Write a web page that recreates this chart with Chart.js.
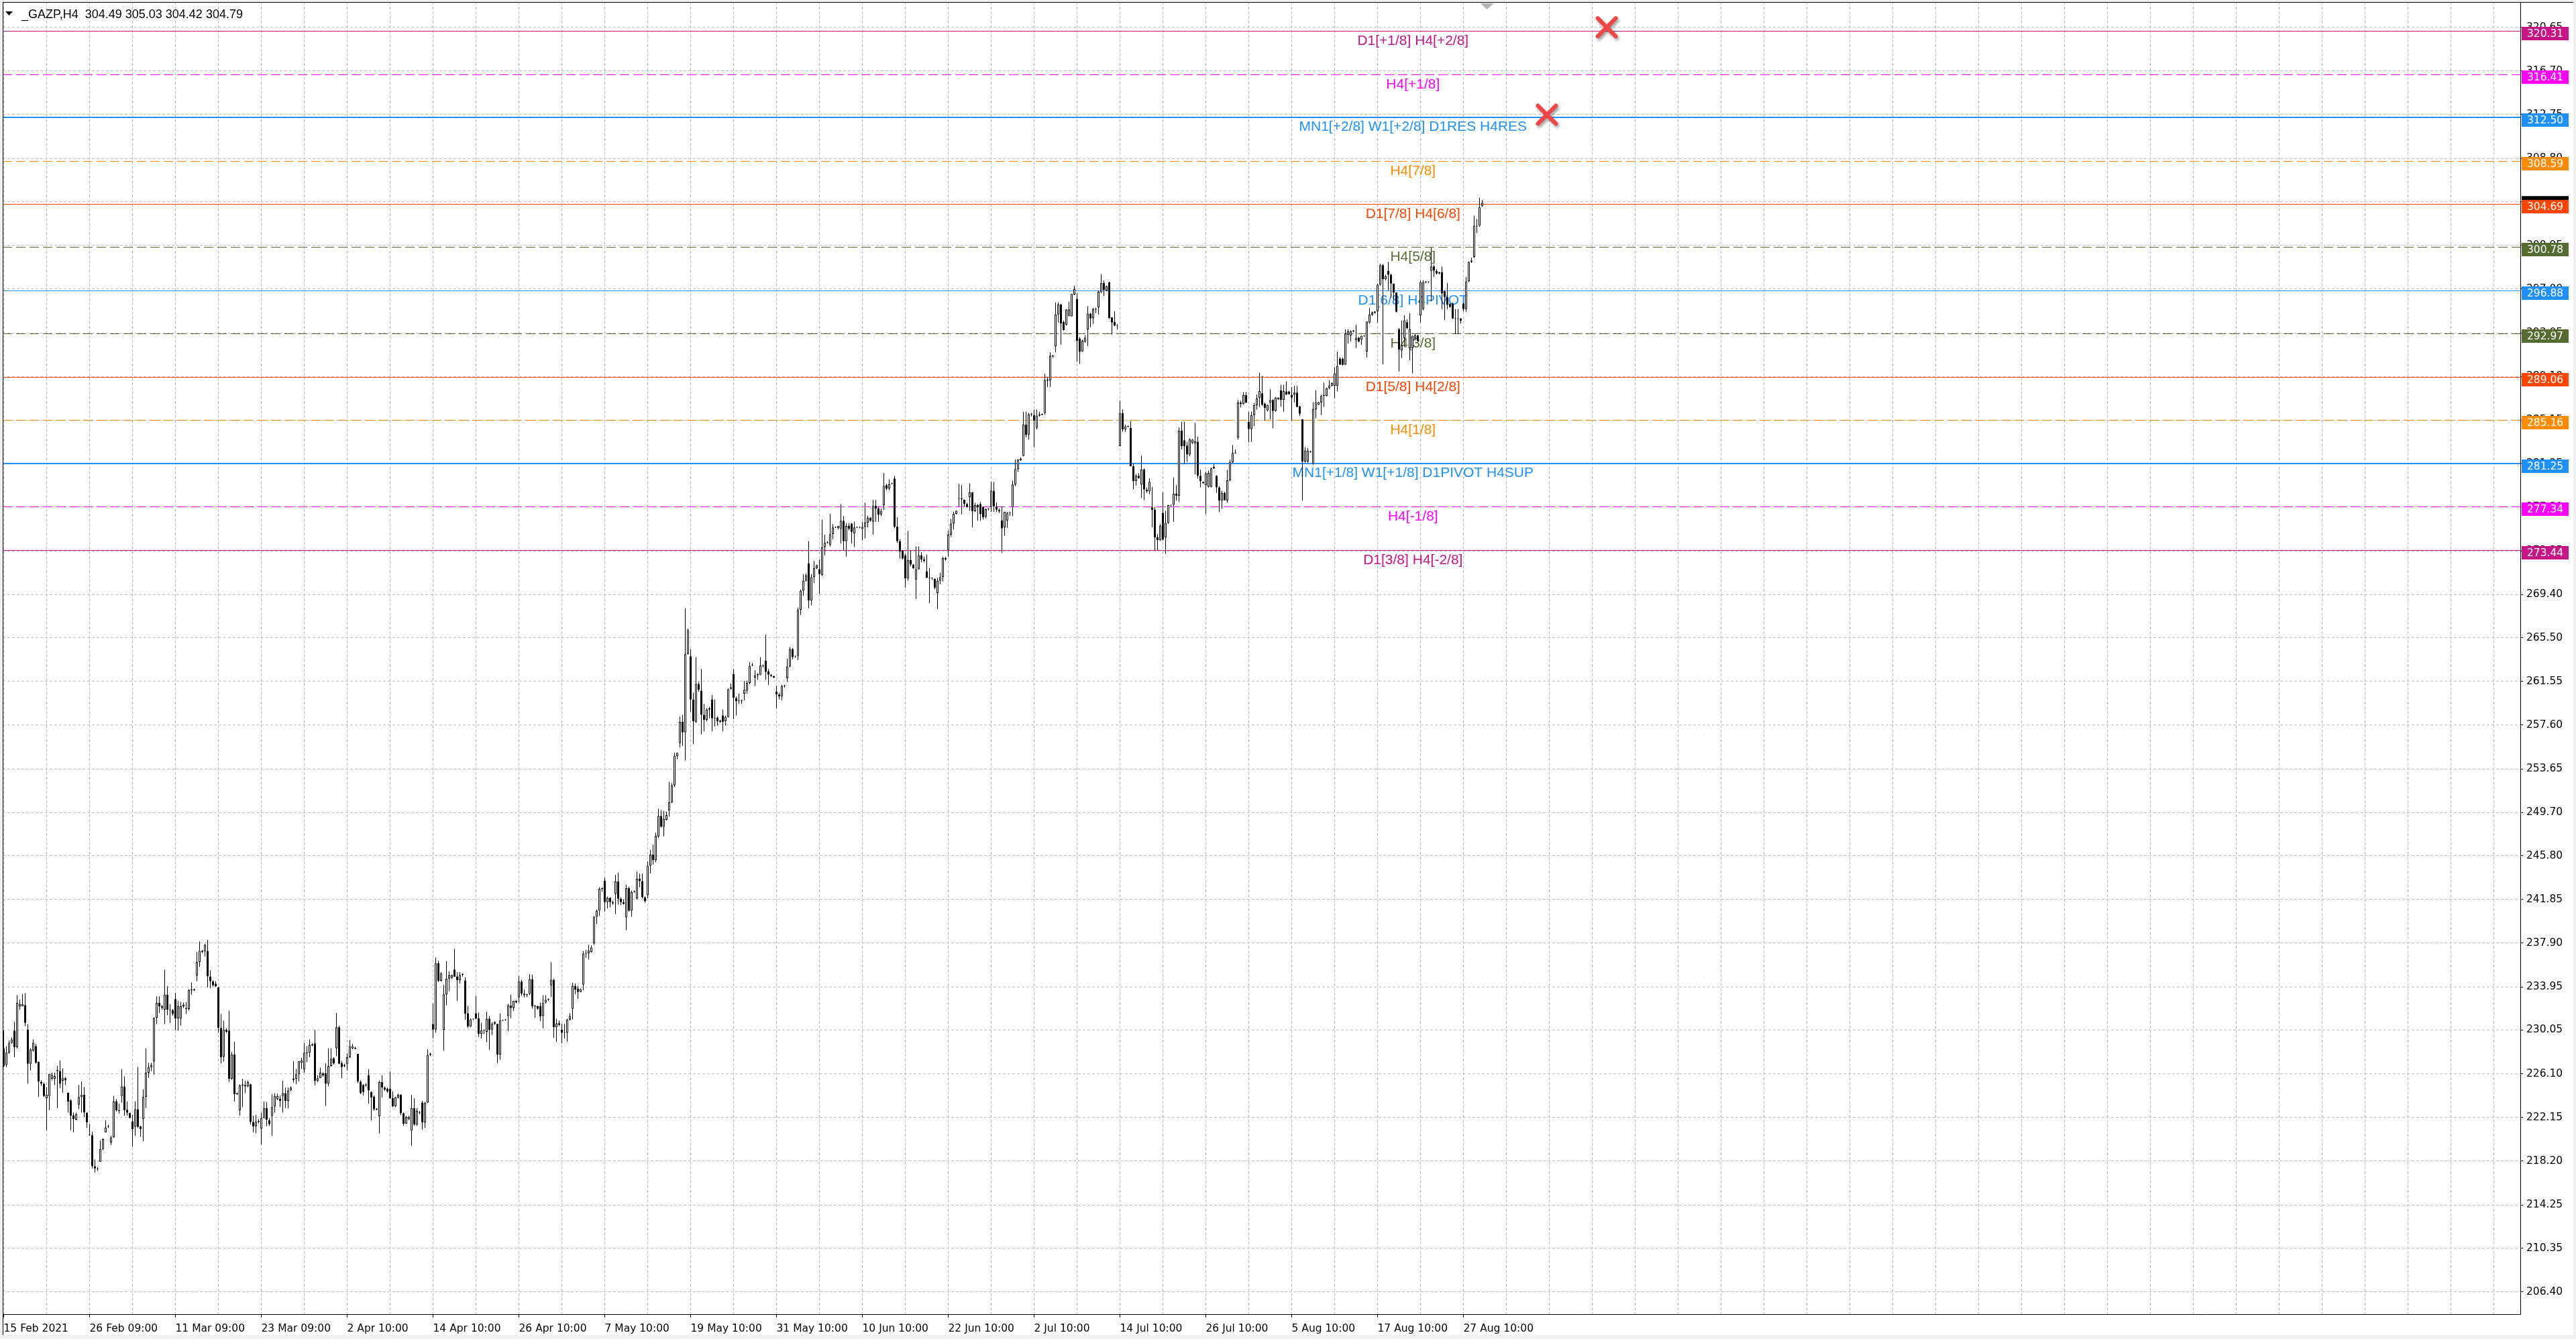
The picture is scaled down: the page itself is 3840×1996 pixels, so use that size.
<!DOCTYPE html>
<html>
<head>
<meta charset="utf-8">
<title>_GAZP,H4</title>
<script src="https://cdn.jsdelivr.net/npm/chart.js@4.4.1/dist/chart.umd.min.js"></script>
<style>
  html, body { margin: 0; padding: 0; background: #f0f0f0; overflow: hidden; }
  #box { position: relative; width: 3840px; height: 1996px; }
</style>
</head>
<body>
<div id="box"><canvas id="myChart"></canvas></div>
<script>
const symbolTitle = "_GAZP,H4  304.49 305.03 304.42 304.79";

// one label every 32 bars (H4 bars, 4 per session day)
const xTickLabels = ["15 Feb 2021", "26 Feb 09:00", "11 Mar 09:00", "23 Mar 09:00", "2 Apr 10:00", "14 Apr 10:00",
  "26 Apr 10:00", "7 May 10:00", "19 May 10:00", "31 May 10:00", "10 Jun 10:00", "22 Jun 10:00", "2 Jul 10:00",
  "14 Jul 10:00", "26 Jul 10:00", "5 Aug 10:00", "17 Aug 10:00", "27 Aug 10:00"];

const yTickValues = [320.65, 316.70, 312.75, 308.80, 304.90, 300.95, 297.00, 293.05, 289.10, 285.15, 281.25, 277.30,
  273.35, 269.40, 265.50, 261.55, 257.60, 253.65, 249.70, 245.80, 241.85, 237.90, 233.95, 230.05, 226.10, 222.15,
  218.20, 214.25, 210.35, 206.40];

const openP = [
228.4,226.9,228.0,228.9,230.0,228.5,232.2,232.2,232.3,230.1,
227.0,228.2,228.6,227.2,225.35,225.2,223.9,224.1,225.65,225.65,
226.45,226.35,225.45,225.7,224.4,223.7,222.35,221.95,223.3,224.0,
224.2,222.6,220.6,220.55,217.75,217.5,218.15,219.3,220.8,221.3,
219.9,220.35,223.6,222.8,224.1,224.95,222.85,222.55,221.8,221.3,
222.9,221.35,222.0,224.0,226.2,226.7,227.2,231.15,232.5,232.2,
231.9,233.25,231.9,231.85,232.85,231.1,231.1,232.2,232.0,231.95,
233.65,233.65,234.95,236.2,237.2,237.15,237.2,234.9,234.45,234.25,
233.9,230.25,227.65,230.1,230.0,225.65,227.85,224.35,222.8,225.1,
225.1,224.95,225.15,221.75,221.35,221.85,221.15,222.1,223.0,221.9,
222.3,223.15,223.8,223.85,224.1,224.35,223.65,224.6,225.55,225.65,
226.05,227.1,226.5,228.0,228.0,228.75,228.85,225.45,225.7,226.15,
226.15,225.2,226.8,227.5,228.4,230.3,227.05,226.9,226.95,227.6,
228.4,228.45,227.9,225.4,225.1,225.1,225.95,224.45,224.05,222.95,
222.25,225.35,224.85,224.75,224.75,223.9,223.15,223.95,224.2,222.55,
221.6,222.0,220.95,223.0,221.5,222.6,223.5,221.7,223.5,227.8,
230.6,230.1,236.1,234.5,230.07,233.28,234.7,234.76,235.51,234.9,
234.56,235.05,234.52,231.56,230.37,231.06,231.56,231.12,229.7,230.0,
229.9,231.08,230.1,230.61,230.61,227.82,230.9,230.95,231.32,232.27,
232.03,232.68,233.0,234.42,233.34,233.28,233.3,234.66,232.2,232.23,
232.23,231.32,232.53,232.8,234.09,234.6,230.31,230.67,230.1,229.8,
229.8,230.97,231.97,234.05,233.81,233.49,234.16,236.99,236.99,237.09,
237.9,240.29,240.84,242.8,243.53,241.61,242.01,241.61,242.35,243.47,
241.91,241.61,240.23,242.86,240.84,242.55,241.95,243.71,243.51,242.05,
242.25,244.9,245.9,245.4,247.55,249.39,248.41,249.05,249.86,250.63,
252.15,254.79,255.97,257.89,256.95,264.0,263.82,259.92,257.89,261.32,
260.71,258.53,258.08,259.13,259.92,258.26,258.26,258.0,258.47,257.95,
258.34,260.84,262.21,260.05,259.8,259.76,260.45,260.71,261.42,263.0,
261.9,262.11,262.16,262.95,263.42,262.48,262.16,262.03,260.63,260.37,
260.18,261.1,261.84,262.9,264.48,263.8,263.87,268.0,269.74,270.64,
272.22,268.87,270.98,271.77,271.69,271.16,273.69,274.1,273.88,274.85,
275.45,275.4,275.32,276.06,274.22,275.59,275.8,274.93,275.45,275.48,
275.32,275.51,275.9,276.32,275.98,277.43,277.17,276.64,277.48,279.27,
278.96,279.4,279.88,275.53,274.22,273.35,272.95,270.85,272.51,272.11,
270.72,271.69,272.95,272.56,271.51,270.9,270.9,270.8,269.53,270.64,
270.98,272.69,273.43,274.8,275.8,276.69,278.05,278.1,277.98,277.58,
278.18,278.62,276.91,277.47,277.58,277.31,276.43,277.1,277.31,278.78,
277.37,277.07,276.11,275.47,276.07,276.77,277.27,279.34,280.73,281.53,
281.93,284.76,283.86,285.67,285.61,284.46,285.55,285.65,285.81,288.72,
288.72,290.93,291.83,294.7,295.59,294.04,293.78,294.58,294.54,296.51,
296.11,292.53,291.37,292.23,293.34,294.78,294.38,295.15,295.35,296.71,
297.55,296.85,297.61,294.44,294.04,293.7,282.8,285.77,284.3,284.55,
284.46,280.99,279.64,280.13,279.32,280.69,278.88,278.72,277.27,277.07,
274.56,274.3,276.77,274.56,275.87,277.45,277.51,278.52,278.32,284.2,
283.34,282.86,282.05,283.1,283.06,283.2,280.13,279.58,279.28,279.12,
279.12,280.79,280.13,279.08,277.88,278.58,277.88,279.72,281.33,282.15,
283.6,286.75,286.61,287.41,285.0,284.34,285.61,286.51,287.14,287.58,
286.64,286.03,286.74,286.98,285.97,287.04,287.84,286.98,287.74,287.74,
287.44,287.44,287.64,286.38,285.23,281.41,281.41,282.36,281.21,286.13,
286.54,286.74,287.44,287.34,288.04,288.24,288.24,288.24,290.72,290.72,
290.15,292.87,292.77,293.17,292.37,292.61,292.41,292.73,291.36,293.97,
294.68,294.82,294.98,297.39,299.16,297.89,298.64,298.3,297.49,296.69,
293.37,291.46,292.57,294.01,291.66,291.66,292.57,292.81,294.62,295.18,
297.6,297.65,298.64,299.04,298.64,298.5,298.5,296.79,296.28,295.68,
295.68,294.34,294.3,294.34,295.68,295.18,297.69,299.44,299.9,302.66,
302.72,304.49];

const highP = [
230.0,228.6,229.1,229.4,230.8,233.2,232.8,233.3,233.4,230.6,
228.4,229.2,228.8,227.2,225.5,225.3,224.9,226.1,226.2,226.2,
226.8,227.3,226.6,225.8,224.4,223.8,222.6,222.6,225.1,225.4,
224.9,222.6,221.6,220.85,218.35,217.65,220.1,220.25,221.9,221.5,
220.5,224.1,223.8,223.4,226.5,225.85,223.6,222.6,222.4,223.6,
226.7,221.4,224.7,228.4,227.1,227.1,231.2,233.1,233.1,232.3,
235.5,234.0,232.4,231.95,233.4,232.7,232.6,232.55,232.6,233.75,
234.35,233.8,237.1,238.05,237.3,237.85,238.2,235.45,234.55,234.45,
233.95,231.5,230.9,230.2,231.8,228.1,229.0,224.4,225.15,225.65,
225.45,225.5,225.2,222.3,222.4,222.0,222.6,223.6,223.55,222.1,
224.25,224.35,224.3,224.15,225.45,224.85,224.85,224.95,227.25,226.55,
227.25,227.55,228.9,228.6,229.2,228.85,230.05,225.95,226.65,226.25,
227.05,228.4,228.4,227.6,231.6,230.45,227.25,227.0,227.95,229.15,
228.8,228.55,227.9,225.5,225.15,225.25,226.5,224.5,224.15,223.0,
225.5,225.95,224.95,224.85,226.3,224.5,224.0,224.3,224.25,222.6,
222.3,222.3,224.2,223.9,223.0,222.75,223.65,223.55,228.3,228.0,
232.45,236.6,236.3,235.3,234.15,236.28,235.37,235.06,237.39,235.27,
235.27,235.17,234.82,232.23,231.12,231.1,233.14,231.62,230.71,230.1,
231.72,231.32,230.77,230.87,230.61,231.56,231.0,231.05,232.43,233.24,
232.7,232.75,234.92,234.56,233.71,233.34,235.11,235.06,232.3,232.25,
232.53,233.2,233.2,232.9,236.18,234.7,231.06,230.91,230.61,230.61,
231.08,231.58,234.32,234.26,234.05,233.8,237.19,237.29,237.74,237.7,
240.33,240.94,242.96,242.92,243.81,242.11,242.05,241.75,244.08,244.28,
242.05,241.85,243.17,243.0,242.66,242.66,244.38,244.18,244.18,242.11,
245.3,246.3,246.8,247.9,250.05,249.92,249.84,249.78,252.47,252.36,
255.1,255.1,258.39,258.53,268.16,266.32,264.48,260.53,263.74,261.5,
262.69,259.53,259.13,259.26,260.32,259.92,258.39,258.08,259.0,258.47,
260.92,261.37,262.69,260.18,260.45,259.92,261.58,261.63,263.29,263.21,
262.56,262.29,263.74,263.08,265.77,262.69,262.2,262.05,261.16,260.53,
261.24,261.25,263.61,264.66,264.58,263.9,268.22,269.85,271.24,271.32,
274.22,271.24,272.43,272.1,272.56,276.17,274.8,274.2,276.69,275.77,
275.55,275.6,277.56,276.51,275.85,275.85,275.85,275.98,275.55,275.55,
275.98,277.69,276.51,276.38,277.96,277.96,277.3,277.17,280.38,279.41,
279.8,279.5,280.12,276.38,274.4,273.35,273.09,275.14,273.35,272.15,
273.74,273.74,273.22,272.82,273.01,271.77,270.92,270.85,270.9,271.37,
272.82,272.82,275.19,276.25,276.9,277.0,279.41,279.27,277.98,277.68,
279.44,278.64,277.68,277.58,277.78,277.37,277.17,277.2,279.58,279.58,
277.72,277.17,277.37,276.87,276.87,276.87,279.68,281.59,281.59,281.79,
285.91,285.91,285.81,285.81,286.11,286.11,285.91,285.75,289.36,289.02,
291.29,291.03,295.79,295.79,295.65,294.14,295.15,295.85,296.55,297.31,
296.65,292.64,292.43,292.84,295.45,294.84,295.31,295.31,296.85,298.36,
297.76,297.31,297.66,294.44,294.98,293.84,286.91,286.11,284.74,284.65,
285.05,281.19,280.29,280.39,281.95,280.79,279.08,279.88,279.12,277.27,
274.86,275.77,278.64,276.97,277.51,277.51,279.98,279.28,284.5,285.0,
285.0,283.2,283.5,283.46,284.9,283.66,280.69,279.6,280.49,280.59,
280.89,281.19,280.19,279.18,278.78,278.68,280.65,281.59,282.9,282.5,
287.01,286.91,287.68,287.68,285.91,285.91,286.71,287.47,289.45,289.15,
286.74,286.54,287.94,287.04,287.24,287.2,288.35,288.35,288.65,287.8,
288.14,288.24,288.24,286.44,285.23,282.72,282.62,282.4,286.78,287.84,
286.8,287.44,288.55,288.1,288.75,288.55,289.95,291.36,290.86,290.8,
293.37,293.37,293.27,293.3,293.77,292.65,292.77,292.8,294.07,295.28,
294.98,295.0,297.49,299.3,299.24,298.3,299.44,298.4,297.49,296.69,
293.47,294.17,294.62,294.27,294.82,292.81,292.93,292.87,297.79,297.79,
297.7,297.7,300.77,299.2,298.8,298.55,299.04,296.89,297.55,295.7,
295.78,295.18,295.18,294.38,295.78,298.09,299.5,299.84,303.62,303.32,
305.23,305.03];

const lowP = [
226.7,226.7,227.9,228.8,227.6,228.4,231.9,232.2,230.4,225.2,
226.4,228.1,227.0,224.0,225.0,224.0,221.0,222.8,225.5,225.1,
223.0,224.8,224.4,225.1,222.6,221.0,220.8,221.9,222.9,222.6,
222.2,221.2,220.5,217.55,217.15,217.35,218.15,219.2,220.8,221.2,
219.65,220.3,222.7,222.5,223.5,222.3,222.3,222.1,219.5,220.5,
221.2,220.4,220.0,223.0,225.75,226.35,226.0,230.6,231.6,231.9,
230.6,231.4,230.7,231.35,230.05,230.0,230.45,232.05,231.5,231.8,
233.25,233.6,234.45,235.75,237.0,236.7,233.9,233.85,233.95,233.95,
229.8,227.05,227.2,229.8,225.35,225.55,223.6,224.2,222.3,223.1,
224.35,224.9,221.5,220.8,220.75,221.6,219.7,222.1,221.35,221.4,
220.5,222.6,223.7,223.1,222.6,223.0,222.95,224.55,225.3,225.15,
225.4,226.55,226.2,227.15,227.6,228.6,225.05,225.35,225.7,225.85,
223.2,224.95,226.75,226.95,227.7,226.95,225.7,226.7,226.4,227.55,
228.3,228.3,225.25,224.25,224.15,224.95,223.4,221.9,222.75,222.8,
220.7,223.95,224.55,224.4,223.85,223.1,223.1,223.85,222.35,221.4,
221.6,221.9,219.6,221.4,221.4,222.45,221.05,221.2,223.45,227.7,
229.3,229.8,234.4,234.45,228.18,232.27,233.55,234.66,234.86,232.68,
234.26,234.86,230.97,230.21,230.31,230.95,231.02,229.44,229.29,229.7,
228.95,228.28,229.6,230.51,227.07,227.37,230.85,230.9,229.96,231.12,
231.76,232.45,232.53,233.14,233.0,233.04,233.2,231.99,231.16,231.9,
230.85,230.21,232.43,232.7,233.04,229.34,229.0,230.41,228.85,229.29,
229.0,230.91,231.0,233.28,232.88,233.45,233.65,236.58,236.42,237.05,
237.74,239.62,240.37,242.56,240.74,241.04,241.14,241.38,240.53,241.38,
241.34,241.38,239.07,240.74,240.29,242.46,241.85,242.96,241.95,241.55,
241.95,244.2,245.0,245.2,247.41,248.33,247.55,248.99,249.34,250.57,
252.02,254.52,255.58,255.71,254.39,264.0,258.79,255.89,257.81,260.63,
256.76,257.03,257.95,258.21,257.03,257.47,257.55,257.81,257.03,257.55,
258.29,260.84,258.16,258.47,259.53,259.53,259.84,260.45,261.29,262.95,
261.11,261.69,262.11,262.82,261.69,261.24,261.95,261.85,259.13,259.92,
259.84,261.0,261.5,262.82,263.53,263.7,263.48,267.56,269.27,270.58,
268.16,268.43,270.45,271.7,269.45,271.06,272.95,274.0,273.74,274.4,
275.4,275.27,274.01,273.35,272.82,275.19,274.01,273.69,275.4,275.4,
274.27,274.48,275.46,275.98,274.8,275.98,275.98,276.51,277.04,278.8,
278.8,279.35,275.38,274.06,272.64,272.56,270.01,270.64,271.95,271.7,
269.01,271.64,272.3,272.3,270.9,268.61,270.72,269.85,268.08,270.32,
270.58,272.48,272.82,274.59,275.27,276.65,277.3,276.64,277.37,277.27,
276.97,275.47,276.87,276.07,276.07,276.17,276.27,277.0,276.87,276.87,
276.87,276.77,273.16,274.7,275.43,276.51,276.47,279.18,280.49,281.49,
281.89,283.6,283.4,285.51,282.7,284.3,285.47,285.6,285.67,288.16,
288.16,290.77,291.29,293.98,291.97,293.24,293.7,294.54,294.5,296.45,
290.43,290.23,291.33,292.13,291.83,293.54,293.84,294.84,294.7,296.65,
296.39,296.79,294.3,292.9,293.64,293.34,282.8,284.1,284.1,284.5,
280.99,278.88,279.24,279.88,278.12,277.92,278.58,278.48,275.47,273.42,
273.42,274.26,274.26,273.06,275.77,277.31,275.97,277.88,277.78,282.5,
281.19,281.39,281.89,283.0,280.25,279.88,279.08,279.4,276.67,279.08,
279.08,280.73,278.58,276.83,277.17,277.92,277.68,279.64,281.29,282.13,
283.4,286.31,286.55,286.71,283.14,283.2,284.6,286.11,286.34,286.44,
285.13,285.93,285.23,284.43,285.93,287.0,286.38,285.93,287.44,287.45,
285.13,286.74,286.34,285.53,277.89,281.31,281.31,282.2,281.11,285.33,
286.5,285.63,286.34,287.3,287.94,288.2,287.14,287.74,290.15,290.1,
290.15,292.06,292.26,293.1,291.66,292.2,291.96,292.7,290.8,293.87,
294.58,294.8,293.97,297.29,290.19,297.79,296.89,296.22,295.98,294.88,
289.55,290.76,291.76,293.37,290.56,289.39,292.37,292.26,293.97,295.08,
297.55,297.55,295.88,298.09,298.3,298.35,295.18,294.21,295.18,295.3,
294.27,292.93,292.93,293.87,294.98,294.94,297.63,299.36,299.8,302.05,
302.62,304.42];

const closeP = [
226.8,228.0,228.9,229.2,228.5,232.5,232.4,232.4,230.7,227.0,
228.3,228.9,227.1,225.4,225.2,224.1,224.2,226.1,226.0,225.9,
226.35,225.2,225.7,225.5,223.6,222.3,222.0,222.45,224.0,224.2,
222.6,221.7,220.55,217.75,217.55,217.45,219.3,220.2,221.25,221.35,
220.35,223.6,222.8,222.75,224.95,222.8,222.6,222.1,221.1,222.9,
221.3,221.1,224.0,226.2,226.7,226.9,231.15,232.5,232.2,232.05,
233.25,231.9,231.85,231.5,231.1,232.2,232.2,232.35,231.95,233.65,
233.7,233.7,236.2,237.2,237.1,237.75,234.9,234.45,234.1,234.0,
230.25,227.6,230.1,229.9,225.65,227.85,224.25,224.25,225.05,225.05,
224.95,225.35,221.75,221.35,221.8,221.75,222.1,223.0,221.95,221.55,
223.1,224.1,224.1,223.65,224.35,223.65,224.6,224.85,225.65,226.05,
227.25,227.3,228.0,227.95,228.7,228.65,225.45,225.7,226.2,225.95,
225.2,226.8,227.45,227.05,230.3,227.0,226.7,226.8,227.6,228.6,
228.6,228.35,225.4,224.35,224.45,225.05,224.6,223.95,222.9,222.85,
225.35,224.85,224.65,224.5,223.9,223.15,223.95,224.2,222.55,221.6,
222.2,222.2,223.0,221.5,222.75,222.55,221.7,223.5,227.8,227.9,
230.1,236.1,234.5,235.15,233.28,234.7,235.0,235.02,234.86,234.56,
235.02,235.1,231.52,230.37,231.02,231.02,231.08,229.7,230.04,230.05,
231.06,230.06,230.61,230.75,227.82,230.91,230.95,231.0,232.27,232.03,
232.7,232.53,234.42,233.34,233.2,233.2,234.66,232.19,232.25,231.97,
231.28,232.53,232.78,232.82,234.6,230.31,230.65,230.51,229.8,229.82,
230.97,231.32,234.05,233.71,233.49,233.75,236.95,236.95,237.23,237.5,
240.29,240.84,242.8,242.85,241.61,242.01,241.61,241.5,243.47,241.91,
241.61,241.44,242.86,240.84,242.52,242.6,243.71,243.51,242.05,241.69,
244.9,245.9,245.4,247.6,249.39,248.41,249.13,249.47,250.63,252.15,
254.84,255.1,257.89,256.95,264.0,266.19,259.92,257.95,261.32,260.79,
258.53,258.08,259.0,259.0,258.21,258.21,257.95,257.89,257.89,258.34,
260.84,261.03,260.05,259.74,259.76,259.8,260.79,261.42,262.95,263.05,
262.11,262.21,263.0,263.0,262.42,262.16,262.03,261.9,260.37,260.18,
261.11,261.15,262.9,264.48,263.74,263.75,268.0,269.74,270.64,271.11,
268.87,270.98,271.77,272.03,271.24,273.69,274.06,274.12,274.85,275.46,
275.47,275.59,276.06,274.22,275.59,275.32,275.06,275.46,275.48,275.45,
275.51,275.9,276.32,276.06,277.43,277.17,276.59,276.96,279.22,278.96,
279.35,279.42,275.53,274.22,273.27,272.64,270.85,272.51,272.11,271.77,
271.69,272.95,272.56,272.43,270.9,270.88,270.85,270.01,270.64,270.98,
272.69,272.56,274.8,275.8,276.69,276.96,278.1,278.0,277.58,277.31,
278.62,276.91,277.47,277.27,276.67,276.37,277.11,277.12,278.78,277.37,
277.07,276.91,275.37,276.87,276.77,276.8,279.34,280.73,281.59,281.69,
284.76,283.8,285.67,285.7,285.11,285.57,285.67,285.68,288.76,288.82,
290.97,290.95,294.7,295.59,293.9,293.3,295.15,295.15,296.55,296.99,
292.33,291.33,292.33,292.6,294.78,294.34,295.19,295.18,296.75,297.55,
296.91,297.25,294.38,293.98,293.7,293.68,285.81,284.3,284.6,284.58,
280.99,279.64,280.13,279.92,280.69,278.88,278.72,279.58,277.03,274.56,
274.3,275.63,274.36,275.87,277.47,277.48,278.52,278.32,284.2,282.8,
282.8,282.05,283.4,283.4,283.26,280.13,279.64,279.48,280.33,280.39,
280.79,280.93,279.08,277.88,278.58,277.92,279.72,281.39,282.19,282.2,
286.75,286.61,287.41,286.71,284.34,285.61,286.51,287.11,287.78,286.54,
286.23,286.54,286.98,285.97,287.18,287.18,286.98,287.78,287.44,287.5,
287.18,287.64,286.34,285.73,281.41,282.42,282.42,282.28,286.17,286.78,
286.78,287.34,287.34,288.04,288.24,288.51,289.39,290.05,290.15,290.15,
292.97,293.17,293.17,293.2,292.61,292.26,292.77,292.75,294.07,294.68,
294.88,294.98,297.39,299.16,297.89,298.15,298.3,297.49,296.69,294.94,
291.52,291.92,294.17,293.47,293.37,292.77,292.81,292.33,297.63,297.63,
297.65,297.62,299.04,298.64,298.4,298.4,296.59,296.28,295.58,295.38,
294.34,294.3,294.34,294.13,295.18,297.69,299.44,299.56,302.72,302.72,
304.4,304.79];

const lastPrice = 304.79;

// Murrey math levels drawn as horizontal lines with a caption
const levelPrices = [320.31, 316.41, 312.50, 308.59, 304.69, 300.78, 296.88, 292.97, 289.06, 285.16, 281.25, 277.34, 273.44];
const levelNames = ["D1[+1/8] H4[+2/8]", "H4[+1/8]", "MN1[+2/8] W1[+2/8] D1RES H4RES", "H4[7/8]", "D1[7/8] H4[6/8]",
  "H4[5/8]", "D1[6/8] H4PIVOT", "H4[3/8]", "D1[5/8] H4[2/8]", "H4[1/8]", "MN1[+1/8] W1[+1/8] D1PIVOT H4SUP",
  "H4[-1/8]", "D1[3/8] H4[-2/8]"];
const levelTextBar = 525.2;

// the two red cross objects
const markerBar = [597.4, 575.1];
const markerPrice = [320.65, 312.75];

const dash = [14, 6];
const levelStyle = [
  ["#C71585", 1, []], ["#FF00FF", 1, dash], ["#1E90FF", 2, []], ["#FF8C00", 1, dash], ["#FF4500", 1, []],
  ["#556B2F", 1, dash], ["#1E90FF", 1, []], ["#556B2F", 1, dash], ["#FF4500", 1, []], ["#FF8C00", 1, dash],
  ["#1E90FF", 2, []], ["#FF00FF", 1, dash], ["#C71585", 1, []]
];

var xGrid = [];
for (var g = 0; g <= 928; g += 16) xGrid.push(g);

var wicks = highP.map(function (h, i) { return { x: i, y: [lowP[i], h] }; });
var bodies = openP.map(function (o, i) { return { x: i, y: [o, closeP[i]] }; });
var bodyColors = openP.map(function (o, i) { return closeP[i] >= o ? "#ffffff" : "#000000"; });
var marks = markerBar.map(function (b, i) { return { x: b, y: markerPrice[i] }; });

const frame = {
  id: "frame",
  beforeDraw(chart) {
    const c = chart.ctx;
    c.save();
    c.fillStyle = "#f0f0f0";
    c.fillRect(0, 0, chart.width, chart.height);
    c.fillStyle = "#ffffff";
    c.fillRect(4, 3, chart.width - 8, chart.height - 9);
    c.restore();
  },
  afterDraw(chart) {
    const c = chart.ctx, a = chart.chartArea, y = chart.scales.y;
    c.save();
    c.strokeStyle = "#000";
    c.lineWidth = 1;
    c.setLineDash([]);
    c.beginPath();
    c.moveTo(4, 3.5); c.lineTo(chart.width - 4, 3.5);
    c.moveTo(4.5, 3); c.lineTo(4.5, chart.height - 6);
    c.stroke();

    // price tags on the right axis
    c.font = '15.5px "DejaVu Sans", Verdana, sans-serif';
    c.textAlign = "left";
    c.textBaseline = "middle";
    const bx = a.right + 2;
    var py = y.getPixelForValue(lastPrice);
    c.fillStyle = "#000";
    c.fillRect(bx, py - 10, 70, 20);
    levelPrices.forEach(function (p, i) {
      py = Math.round(y.getPixelForValue(p));
      c.fillStyle = levelStyle[i][0];
      c.fillRect(bx, py - 6, 70, 20);
      c.fillStyle = "#fff";
      c.fillText(p.toFixed(2), bx + 8, py + 4.5);
    });

    // header
    c.fillStyle = "#000";
    c.beginPath();
    c.moveTo(8, 17); c.lineTo(19, 17); c.lineTo(13.5, 23); c.closePath();
    c.fill();
    c.font = '18px "Liberation Sans", Arial, sans-serif';
    c.textBaseline = "alphabetic";
    c.fillText(symbolTitle, 32, 27);
    c.restore();
  }
};

const levels = {
  id: "levels",
  beforeDatasetsDraw(chart) {
    const c = chart.ctx, a = chart.chartArea, x = chart.scales.x, y = chart.scales.y;
    c.save();
    c.beginPath();
    c.rect(a.left, a.top, a.right - a.left, a.bottom - a.top);
    c.clip();
    const tx = x.getPixelForValue(levelTextBar);
    c.font = '21px "Liberation Sans", Arial, sans-serif';
    c.textAlign = "center";
    c.textBaseline = "alphabetic";
    levelPrices.forEach(function (p, i) {
      const st = levelStyle[i];
      const py = Math.round(y.getPixelForValue(p)) + (st[1] === 1 ? 0.5 : 0);
      c.strokeStyle = st[0];
      c.lineWidth = st[1];
      c.setLineDash(st[2]);
      c.beginPath();
      c.moveTo(a.left, py);
      c.lineTo(a.right, py);
      c.stroke();
      c.fillStyle = st[0];
      c.fillText(levelNames[i], tx, py + 20);
    });
    // chart shift marker
    const sx = x.getPixelForValue(openP.length + 0.8);
    c.fillStyle = "#b4b4b4";
    c.beginPath();
    c.moveTo(sx - 10, a.top + 2); c.lineTo(sx + 10, a.top + 2); c.lineTo(sx, a.top + 11);
    c.closePath();
    c.fill();
    c.restore();
  }
};

const markShadow = {
  id: "markShadow",
  beforeDatasetDraw(chart, args) {
    if (args.index !== 2) return;
    const c = chart.ctx;
    c.save();
    c.shadowColor = "rgba(0,0,0,0.4)";
    c.shadowBlur = 4;
    c.shadowOffsetX = 2;
    c.shadowOffsetY = 3;
    c.lineCap = "round";
  },
  afterDatasetDraw(chart, args) {
    if (args.index === 2) chart.ctx.restore();
  }
};

var ctx = document.getElementById("myChart");

var myChart = new Chart(ctx, {
  type: "bar",
  data: {
    datasets: [
      {
        label: "wick",
        data: wicks,
        backgroundColor: "#000",
        borderWidth: 0,
        grouped: false,
        barPercentage: 1,
        categoryPercentage: 1,
        maxBarThickness: 1,
        inflateAmount: 0,
        order: 3,
      },
      {
        label: "body",
        data: bodies,
        backgroundColor: bodyColors,
        borderColor: "#000",
        borderWidth: 1,
        borderSkipped: false,
        grouped: false,
        barPercentage: 1,
        categoryPercentage: 1,
        maxBarThickness: 3,
        minBarLength: 1,
        inflateAmount: 0,
        order: 2,
      },
      {
        type: "scatter",
        label: "marks",
        data: marks,
        pointStyle: "crossRot",
        pointRadius: 19,
        borderWidth: 6,
        borderColor: "#f04646",
        backgroundColor: "#f04646",
        order: 1,
      },
    ],
  },
  options: {
    responsive: true,
    maintainAspectRatio: false,
    devicePixelRatio: 1,
    animation: false,
    events: [],
    layout: { autoPadding: false, padding: { left: 4, top: 3, right: 0, bottom: 0 } },
    plugins: {
      legend: { display: false },
      tooltip: { enabled: false },
    },
    scales: {
      x: {
        type: "linear",
        position: "bottom",
        offset: false,
        min: -0.375,
        max: 937.875,
        afterBuildTicks: function (axis) {
          axis.ticks = xGrid.map(function (v) { return { value: v }; });
        },
        afterFit: function (axis) {
          axis.height = 37;
          axis.paddingLeft = 0;
          axis.paddingRight = 0;
        },
        ticks: {
          autoSkip: false,
          maxRotation: 0,
          minRotation: 0,
          align: "start",
          padding: 8,
          color: "#000",
          font: { family: '"DejaVu Sans", Verdana, sans-serif', size: 15.5 },
          callback: function (v) {
            var k = v / 32;
            return Number.isInteger(k) && k < xTickLabels.length ? xTickLabels[k] : "";
          },
        },
        grid: {
          offset: false,
          color: "#c0c0c0",
          lineWidth: 1,
          tickLength: 5,
          tickColor: function (c) { return c.tick && c.tick.label ? "#000" : "rgba(0,0,0,0)"; },
        },
        border: { display: true, color: "#000", width: 1, dash: [4, 3] },
      },
      y: {
        type: "linear",
        position: "right",
        min: 204.38,
        max: 322.93,
        afterBuildTicks: function (axis) {
          axis.ticks = yTickValues.map(function (v) { return { value: v }; });
        },
        afterFit: function (axis) {
          axis.width = 83;
          axis.paddingTop = 0;
          axis.paddingBottom = 0;
        },
        ticks: {
          autoSkip: false,
          padding: 5,
          color: "#000",
          font: { family: '"DejaVu Sans", Verdana, sans-serif', size: 15.5 },
          callback: function (v) { return v.toFixed(2); },
        },
        grid: {
          color: "#c0c0c0",
          lineWidth: 1,
          tickLength: 4,
          tickColor: "#000",
        },
        border: { display: true, color: "#000", width: 1, dash: [4, 3] },
      },
    },
  },
  plugins: [frame, levels, markShadow],
});
</script>
</body>
</html>
